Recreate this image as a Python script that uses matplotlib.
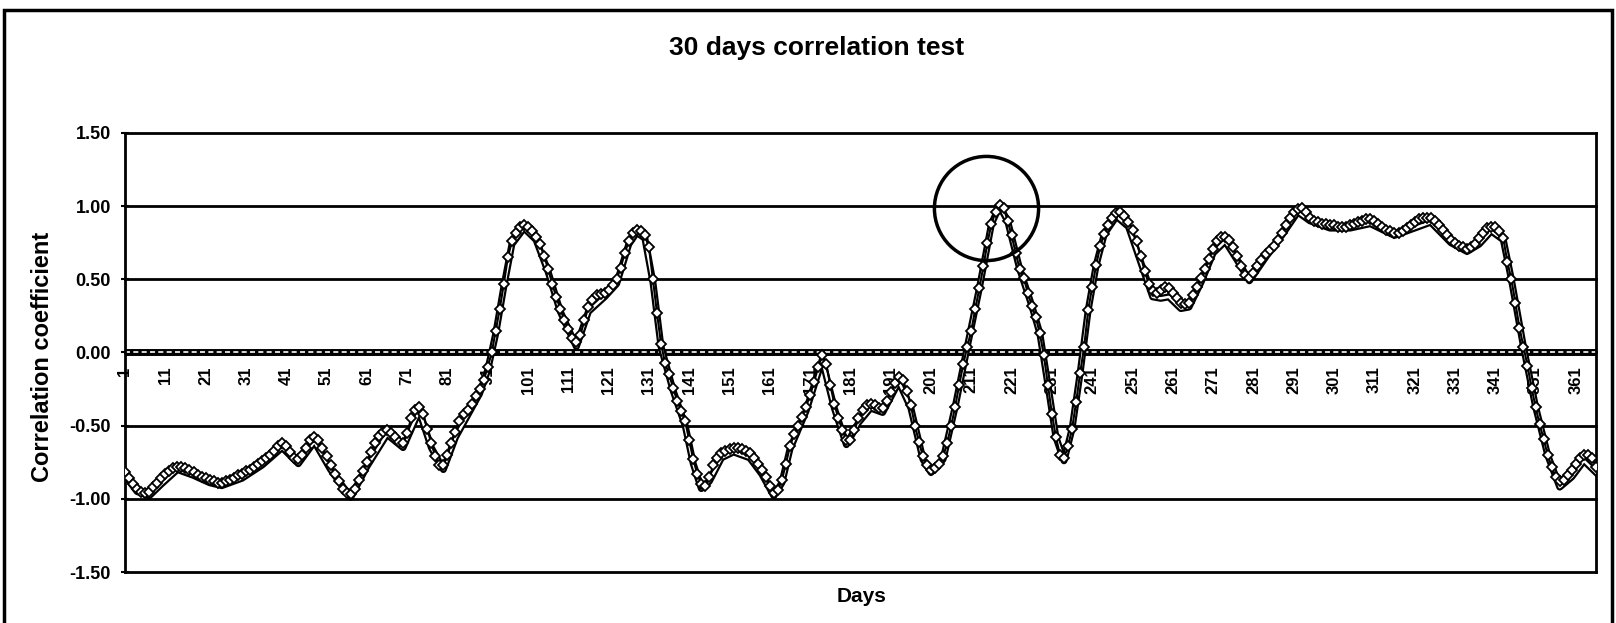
import matplotlib
matplotlib.use("Agg")
import matplotlib.pyplot as plt
from matplotlib.patches import Rectangle

plt.rcParams['font.family'] = ['Liberation Sans', 'DejaVu Sans']

# correlation with diamond markers, one value per day (1..366)
corr_a = [
    -0.82, -0.86, -0.90, -0.93, -0.95, -0.96, -0.95, -0.92, -0.89, -0.86,
    -0.83, -0.81, -0.79, -0.78, -0.78, -0.79, -0.80, -0.82, -0.84, -0.85,
    -0.86, -0.87, -0.88, -0.89, -0.89, -0.88, -0.87, -0.86, -0.84, -0.83,
    -0.81, -0.80, -0.78, -0.76, -0.74, -0.72, -0.70, -0.67, -0.64, -0.62,
    -0.64, -0.68, -0.72, -0.73, -0.70, -0.65, -0.60, -0.58, -0.60, -0.65,
    -0.71, -0.77, -0.83, -0.88, -0.93, -0.96, -0.97, -0.93, -0.87, -0.81,
    -0.75, -0.68, -0.62, -0.57, -0.54, -0.53, -0.55, -0.58, -0.61, -0.62,
    -0.55, -0.45, -0.39, -0.37, -0.42, -0.52, -0.62, -0.71, -0.77, -0.77,
    -0.70, -0.62, -0.54, -0.47, -0.42, -0.39, -0.35, -0.30, -0.25, -0.19,
    -0.10, 0.00, 0.15, 0.30, 0.47, 0.65, 0.76, 0.82, 0.86, 0.87,
    0.86, 0.83, 0.79, 0.74, 0.66, 0.57, 0.47, 0.38, 0.30, 0.22,
    0.16, 0.10, 0.07, 0.12, 0.22, 0.31, 0.36, 0.39, 0.40, 0.41,
    0.43, 0.46, 0.50, 0.58, 0.68, 0.76, 0.82, 0.84, 0.83, 0.80,
    0.72, 0.50, 0.27, 0.06, -0.07, -0.15, -0.24, -0.33, -0.40, -0.47,
    -0.60, -0.73, -0.83, -0.90, -0.91, -0.85, -0.77, -0.72, -0.69, -0.67,
    -0.66, -0.65, -0.65, -0.66, -0.67, -0.69, -0.72, -0.76, -0.80, -0.85,
    -0.91, -0.96, -0.94, -0.87, -0.76, -0.64, -0.56, -0.50, -0.44, -0.37,
    -0.29, -0.20, -0.10, -0.02, -0.08, -0.22, -0.35, -0.45, -0.53, -0.60,
    -0.60, -0.53, -0.45, -0.39, -0.36, -0.35, -0.36, -0.38, -0.38, -0.33,
    -0.27, -0.21, -0.17, -0.19, -0.26, -0.36, -0.50, -0.61, -0.71, -0.77,
    -0.80, -0.79, -0.76, -0.71, -0.62, -0.50, -0.37, -0.22, -0.08, 0.04,
    0.15, 0.30, 0.44, 0.59, 0.75, 0.88, 0.96, 1.01, 0.99, 0.90,
    0.80, 0.68, 0.57, 0.51, 0.41, 0.32, 0.24, 0.13, -0.02, -0.22,
    -0.42, -0.58, -0.70, -0.72, -0.64, -0.52, -0.34, -0.14, 0.04, 0.29,
    0.45, 0.60, 0.73, 0.81, 0.87, 0.92, 0.95, 0.96, 0.93, 0.89,
    0.84, 0.76, 0.66, 0.56, 0.47, 0.42, 0.41, 0.43, 0.45, 0.44,
    0.41, 0.37, 0.34, 0.33, 0.34, 0.39, 0.45, 0.51, 0.57, 0.64,
    0.71, 0.76, 0.79, 0.79, 0.77, 0.72, 0.66, 0.59, 0.53, 0.51,
    0.54, 0.59, 0.63, 0.67, 0.70, 0.73, 0.77, 0.82, 0.87, 0.92,
    0.96, 0.98, 0.99, 0.96, 0.92, 0.90, 0.89, 0.88, 0.88, 0.87,
    0.87, 0.86, 0.86, 0.86, 0.87, 0.88, 0.89, 0.90, 0.91, 0.91,
    0.90, 0.88, 0.86, 0.84, 0.83, 0.82, 0.82, 0.83, 0.85, 0.87,
    0.89, 0.91, 0.92, 0.92, 0.92, 0.90, 0.87, 0.84, 0.80, 0.77,
    0.75, 0.73, 0.72, 0.71, 0.72, 0.74, 0.78, 0.82, 0.85, 0.86,
    0.86, 0.83, 0.78, 0.62, 0.50, 0.34, 0.17, 0.04, -0.09, -0.24,
    -0.37, -0.49, -0.59, -0.70, -0.78, -0.85, -0.88, -0.87, -0.84, -0.80,
    -0.76, -0.72, -0.70, -0.70, -0.72, -0.78,
]
days = list(range(1, len(corr_a) + 1))

# second (outlined) series, read at key days
days_b = [1, 4, 7, 10, 14, 18, 22, 25, 30, 35, 40, 44, 48, 52, 57, 61, 66, 70,
          74, 77, 80, 83, 86, 89, 91, 93, 95, 97, 100, 103, 106, 109, 113, 116,
          120, 123, 126, 128, 130, 132, 134, 137, 140, 142, 144, 146, 149, 152,
          156, 159, 162, 164, 166, 170, 174, 177, 180, 183, 186, 189, 193, 196,
          199, 201, 204, 207, 210, 213, 216, 218, 220, 223, 226, 228, 230, 232,
          234, 236, 238, 240, 242, 244, 247, 250, 253, 256, 258, 260, 263, 265,
          268, 271, 274, 277, 280, 284, 288, 292, 295, 300, 305, 310, 316, 320,
          325, 330, 334, 337, 340, 343, 345, 348, 351, 354, 357, 360, 363, 366]
corr_b = [-0.84, -0.95, -0.98, -0.90, -0.80, -0.84, -0.89, -0.91, -0.86, -0.77,
          -0.65, -0.76, -0.61, -0.80, -0.99, -0.78, -0.56, -0.65, -0.40, -0.65,
          -0.80, -0.58, -0.43, -0.28, -0.12, 0.13, 0.45, 0.74, 0.85, 0.77, 0.55,
          0.28, 0.04, 0.28, 0.38, 0.47, 0.74, 0.82, 0.78, 0.48, 0.04, -0.26,
          -0.50, -0.76, -0.93, -0.88, -0.72, -0.68, -0.72, -0.83, -0.98, -0.89,
          -0.66, -0.40, -0.05, -0.38, -0.63, -0.48, -0.38, -0.41, -0.20, -0.38,
          -0.73, -0.82, -0.73, -0.37, 0.04, 0.44, 0.88, 1.00, 0.90, 0.57, 0.32,
          0.13, -0.22, -0.58, -0.74, -0.52, -0.14, 0.29, 0.60, 0.81, 0.93, 0.86,
          0.62, 0.38, 0.37, 0.38, 0.30, 0.31, 0.48, 0.68, 0.76, 0.63, 0.49, 0.65,
          0.80, 0.96, 0.90, 0.85, 0.85, 0.88, 0.80, 0.84, 0.89, 0.75, 0.69, 0.74,
          0.83, 0.77, 0.50, 0.04, -0.37, -0.70, -0.92, -0.85, -0.74, -0.82]

x_ticks = list(range(1, 362, 10))
x_labels = [str(d) for d in x_ticks]
y_ticks = [-1.5, -1.0, -0.5, 0.0, 0.5, 1.0, 1.5]
y_labels = ['-1.50', '-1.00', '-0.50', '0.00', '0.50', '1.00', '1.50']

# highlighted peak
mark_day = 214.7
mark_val = 0.985

fig = plt.figure(figsize=(16.16, 6.23), dpi=100)
ax = fig.add_axes([0.07735, 0.08186, 0.91027, 0.70466])

for y in y_ticks:
    ax.axhline(y, color='black', lw=2, zorder=1, clip_on=False)
# textured zero axis
ax.axhline(0, color='black', lw=5, zorder=2)
ax.axhline(0, color='white', lw=1.2, ls=(0, (3, 2)), zorder=2)

ax.plot(days_b, corr_b, color='black', lw=5, zorder=3, solid_joinstyle='round')
ax.plot(days_b, corr_b, color='white', lw=1.8, zorder=4, solid_joinstyle='round')
ax.plot(days, corr_a, color='black', lw=1.5, marker='D', ms=5, mfc='white',
        mec='black', mew=1.3, zorder=5)

ax.plot([mark_day], [mark_val], marker='o', ms=75, mfc='none', mec='black',
        mew=2.5, zorder=6, clip_on=False)

ax.set_xlim(1, 366)
ax.set_ylim(-1.5, 1.5)

ax.spines['top'].set_visible(False)
ax.spines['bottom'].set_position(('data', 0))
ax.spines['bottom'].set_visible(False)
for s in ['left', 'right']:
    ax.spines[s].set_linewidth(2)

ax.set_yticks(y_ticks, labels=y_labels)
ax.tick_params(axis='y', direction='inout', length=6, width=1.5, pad=7,
               labelsize=13)
for t in ax.get_yticklabels():
    t.set_fontweight('bold')

ax.set_xticks(x_ticks, labels=x_labels, rotation=90)
ax.tick_params(axis='x', length=0, pad=10, labelsize=12)
for t in ax.get_xticklabels():
    t.set_fontweight('bold')

fig.text(0.505, 0.923, '30 days correlation test', ha='center', va='center',
         fontsize=19, fontweight='bold')
fig.text(0.5334, 0.0433, 'Days', ha='center', va='center',
         fontsize=15, fontweight='bold')
fig.text(0.0266, 0.427, 'Correlation coefficient', ha='center', va='center',
         rotation=90, fontsize=17, fontweight='bold')

# frame around the whole chart
fig.patches.append(Rectangle((4 / 1616, -0.02), 1608 / 1616, 1.02 - 10 / 623,
                             transform=fig.transFigure, fill=False,
                             edgecolor='black', lw=2.5))

fig.savefig('out.png', dpi=100)
